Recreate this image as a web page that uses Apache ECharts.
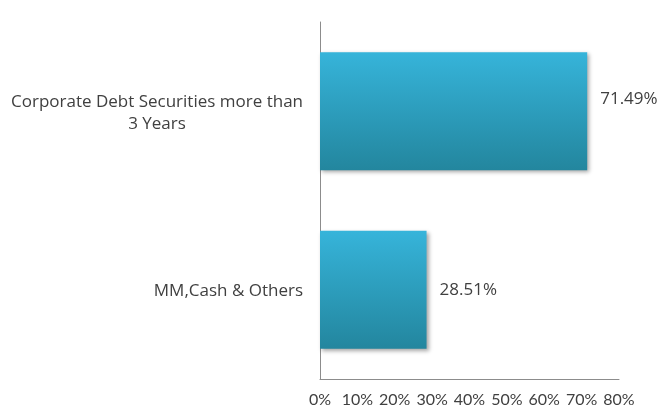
<!DOCTYPE html>
<html>
<head>
<meta charset="utf-8">
<script src="https://cdn.jsdelivr.net/npm/echarts@6/dist/echarts.min.js"></script>
<style>
  html, body { margin: 0; padding: 0; background: #fff; }
  #chart { width: 664px; height: 408px; }
</style>
</head>
<body>
<div id="chart"></div>
<script>
// data
const categories = ['MM,Cash & Others', 'Corporate Debt Securities more than\n3 Years']
const allocation = [28.51, 71.49]
const xTicks = [0, 10, 20, 30, 40, 50, 60, 70, 80]

const textColor = '#404040'
const tickFont = 'Lato'
const labelFont = 'Open Sans'

var myChart = echarts.init(document.getElementById('chart'), null, { renderer: 'canvas' })

const barColor = new echarts.graphic.LinearGradient(0, 0, 0, 1, [
    { offset: 0, color: '#36B4DA' },
    { offset: 1, color: '#23869E' }
])

option = {
    animation: false,
    grid: { left: 320, right: 45, top: 22, bottom: 28 },
    xAxis: {
        type: 'value',
        min: xTicks[0],
        max: xTicks[xTicks.length - 1],
        interval: 10,
        splitLine: { show: false },
        axisTick: { show: false },
        axisLine: { show: true, lineStyle: { color: '#8C8C8C', width: 1 } },
        axisLabel: {
            margin: 13,
            color: textColor,
            fontFamily: tickFont,
            fontSize: 16,
            formatter: (v) => v + '%'
        }
    },
    yAxis: {
        type: 'category',
        data: categories,
        axisTick: { show: false },
        axisLine: { show: true, lineStyle: { color: '#8C8C8C', width: 1 } },
        axisLabel: {
            margin: 17,
            color: textColor,
            fontFamily: labelFont,
            fontSize: 17,
            align: 'right',
            formatter: (v) => v.split('\n').map(s => '{c|' + s + '}').join('\n'),
            rich: {
                c: { align: 'center', color: textColor, fontFamily: labelFont, fontSize: 17, lineHeight: 22, padding: [3, 0, 0, 0] }
            }
        }
    },
    series: [{
        type: 'bar',
        data: allocation.map((v, i) => ({
            value: v,
            label: i === 1 ? { offset: [0, -12] } : {}
        })),
        barCategoryGap: '34%',
        itemStyle: {
            color: barColor,
            shadowColor: 'rgba(0,0,0,0.35)',
            shadowBlur: 4,
            shadowOffsetX: 2,
            shadowOffsetY: 2
        },
        label: {
            show: true,
            position: 'right',
            distance: 13,
            color: textColor,
            fontFamily: labelFont,
            fontSize: 17,
            formatter: (p) => p.value.toFixed(2) + '%'
        }
    }]
}
myChart.setOption(option)
</script>
</body>
</html>
